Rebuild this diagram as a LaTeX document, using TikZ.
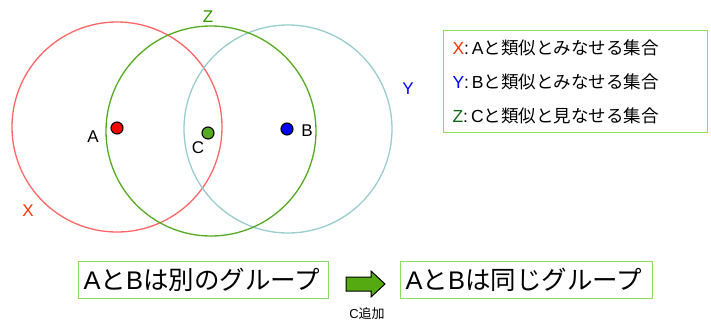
\documentclass[tikz,border=0pt]{standalone}
\usepackage{fontspec}
\setmainfont{Noto Sans CJK JP}
\newfontfamily\latinf{Liberation Sans}
\begin{document}
\begin{tikzpicture}[x=1pt,y=-1pt,
  setcircle/.style={line width=1.3pt},
  dotnode/.style={circle,draw=black,line width=1.1pt,minimum size=12pt,inner sep=0pt},
  ptlabel/.style={font=\latinf\fontsize{17}{20}\selectfont},
  greenbox/.style={draw=boxgreen,line width=1.3pt,inner sep=0pt,anchor=north west},
  legendtext/.style={font=\fontsize{17.5}{20}\selectfont,anchor=west},
  bigtext/.style={font=\fontsize{25.5}{28}\selectfont,anchor=west}]
\definecolor{cred}{HTML}{FF6666}
\definecolor{cgreen}{HTML}{55AA22}
\definecolor{cteal}{HTML}{99CCCC}
\definecolor{boxgreen}{HTML}{8CDD5A}
\definecolor{arrowgreen}{HTML}{55AA11}
\definecolor{lred}{HTML}{FF3300}
\definecolor{lblue}{HTML}{0000FF}
\definecolor{lgreen}{HTML}{116611}
\definecolor{zgreen}{HTML}{339900}
\useasboundingbox (0,0) rectangle (711,327);
% circles
\draw[setcircle,cred] (117,127) circle (105);
\draw[setcircle,cteal] (288,129) circle (104);
\draw[setcircle,cgreen] (211,131) circle (105);
% dots
\node[dotnode,fill=red] (A) at (117,128) {};
\node[dotnode,fill=cgreen] (C) at (208,133) {};
\node[dotnode,fill=blue] (B) at (287,129) {};
\node[ptlabel] (Al) at (93,137) {A};
\node[ptlabel] (Cl) at (198,148) {C};
\node[ptlabel] (Bl) at (307,131) {B};
\node[ptlabel,text=lred] (Xl) at (28,211) {X};
\node[ptlabel,text=lblue] (Yl) at (408,89) {Y};
\node[ptlabel,text=zgreen] (Zl) at (208,17) {Z};
% legend
\node[greenbox,minimum width=264pt,minimum height=102pt] (leg) at (443,30) {};
\node[legendtext] (l1) at (449,48) {{\latinf\textcolor{lred}{X}:\,A}と類似とみなせる集合};
\node[legendtext] (l2) at (449,82) {{\latinf\textcolor{lblue}{Y}:\,B}と類似とみなせる集合};
\node[legendtext] (l3) at (449,116) {{\latinf\textcolor{lgreen}{Z}:\,C}と類似と見なせる集合};
% bottom boxes
\node[greenbox,minimum width=250pt,minimum height=37pt] (b1) at (78,261) {};
\node[bigtext] (t1) at (80,280) {{\latinf A}と{\latinf B}は別のグループ};
\node[greenbox,minimum width=252pt,minimum height=37pt] (b2) at (400,261) {};
\node[bigtext] (t2) at (402,280) {{\latinf A}と{\latinf B}は同じグループ};
% arrow
\draw[fill=arrowgreen,draw=black,line width=1pt]
  (346,277) -- (371,277) -- (371,271) -- (385,284) -- (371,297) -- (371,291) -- (346,291) -- cycle;
\node[font=\fontsize{13}{15}\selectfont] (cadd) at (367,314) {{\latinf C}追加};
\end{tikzpicture}
\end{document}
